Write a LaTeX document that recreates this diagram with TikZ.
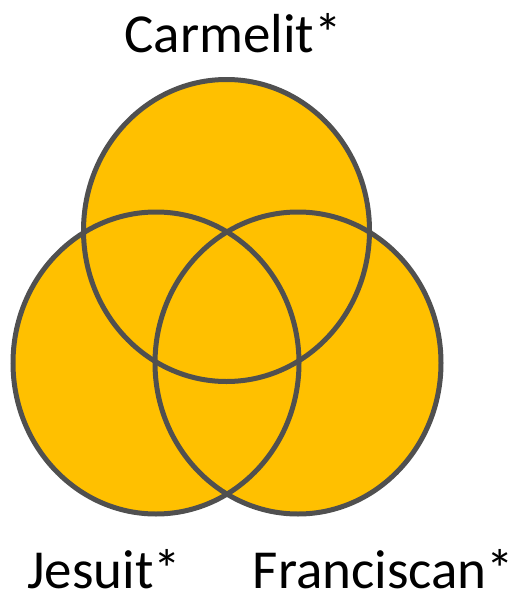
\documentclass[tikz,border=0pt]{standalone}
\usepackage{fontspec}
\setmainfont{Carlito}
\definecolor{vfill}{HTML}{FFC000}
\definecolor{vline}{HTML}{505050}
\begin{document}
\begin{tikzpicture}[x=1pt,y=-1pt,
  setfill/.style={fill=vfill},
  setline/.style={draw=vline,line width=5pt},
  lbl/.style={anchor=base,inner sep=0pt,font=\fontsize{55}{60}\selectfont}]
\useasboundingbox (0,0) rectangle (515,597);
\coordinate (ctop) at (226.5,230.5);
\coordinate (cleft) at (156,363);
\coordinate (cright) at (298,363);
\foreach \c in {ctop,cleft,cright}
  \path[setfill] (\c) ellipse [x radius=143pt, y radius=151pt];
\foreach \c in {ctop,cleft,cright}
  \path[setline] (\c) ellipse [x radius=143pt, y radius=151pt];
\node[lbl] (carm) at (233,52) {Carmelit*};
\node[lbl] (jes) at (104,588) {Jesuit*};
\node[lbl] (fran) at (383.5,588) {Franciscan*};
\end{tikzpicture}
\end{document}
